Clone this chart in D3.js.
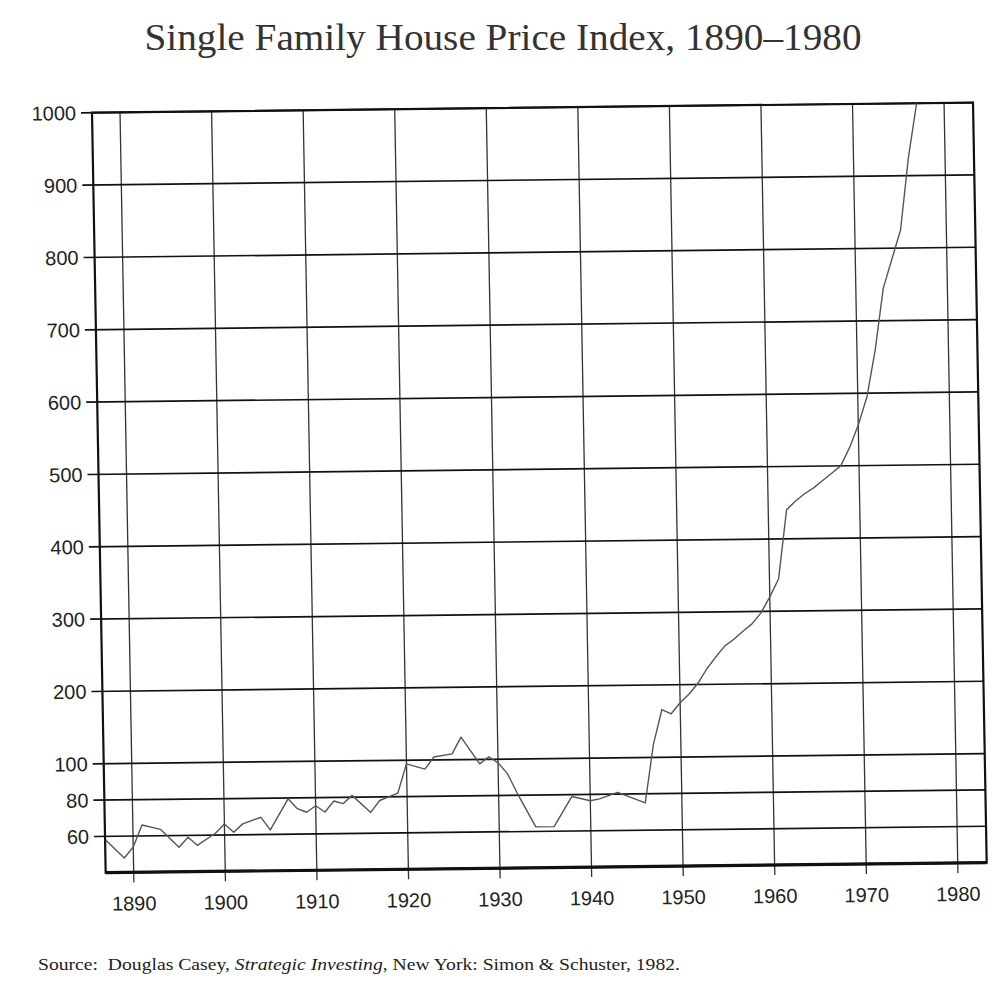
<!DOCTYPE html>
<html>
<head>
<meta charset="utf-8">
<script src="https://cdn.jsdelivr.net/npm/d3@7"></script>
<style>
  body { margin: 0; background: #fff; }
  svg { display: block; }
</style>
</head>
<body>
<div id="chart"></div>
<script>
// Data
const years = [1887, 1889, 1890, 1891, 1893, 1895, 1896, 1897, 1899, 1900,
    1901, 1902, 1904, 1905, 1907, 1908, 1909, 1910, 1911, 1912,
    1913, 1914, 1916, 1917, 1919, 1920, 1922, 1923, 1925, 1926,
    1928, 1929, 1930, 1931, 1932, 1934, 1936, 1938, 1940, 1941,
    1943, 1946, 1947, 1948, 1949, 1950, 1951, 1952, 1953, 1954,
    1955, 1956, 1957, 1958, 1959, 1960, 1961, 1962, 1963, 1964,
    1965, 1966, 1967, 1968, 1969, 1970, 1971, 1972, 1973, 1974,
    1975, 1976, 1977];
const values = [58, 48, 54, 66, 63.5, 53.5, 59, 54.5, 61, 66,
    61.5, 66, 69.5, 62.5, 79.5, 74, 72, 75.5, 72, 78,
    76.5, 81, 71.5, 78, 82, 98, 95, 104, 108, 131,
    97.5, 103.5, 98, 92, 81.5, 62.5, 62.5, 79, 76.5, 77.5,
    81, 75, 118, 166, 160, 175, 187, 202, 222, 238,
    253, 262, 273, 283, 298, 320, 345, 440, 452, 462,
    470, 480, 490, 500, 525, 556, 595, 660, 745, 785,
    825, 925, 1000];

const xTicks = [1890, 1900, 1910, 1920, 1930, 1940, 1950, 1960, 1970, 1980];
const yTicks = [60, 80, 100, 200, 300, 400, 500, 600, 700, 800, 900, 1000];

const title = 'Single Family House Price Index, 1890\u20131980';

// Dimensions
let dimensions = {
    width: 1005,
    height: 998,
    ctrWidth: 881,
    ctrHeight: 760
};

// Scales
const xScale = d3.scaleLinear()
    .domain([1886.94, 1983.16])
    .range([0, dimensions.ctrWidth]);

// printed scale is stretched below 100
const yScale = d3.scaleLinear()
    .domain([40, 100, 1000])
    .range([dimensions.ctrHeight, 651, 0]);

// Draw Image
const svg = d3.select('#chart')
    .append('svg')
    .attr('width', dimensions.width)
    .attr('height', dimensions.height);

svg.append('text')
    .attr('x', 503)
    .attr('y', 50)
    .attr('text-anchor', 'middle')
    .attr('font-family', 'Liberation Serif, serif')
    .attr('font-size', 38)
    .attr('fill', '#333')
    .attr('textLength', 717)
    .attr('lengthAdjust', 'spacingAndGlyphs')
    .text(title);

// the scan is slightly skewed, so the plot is too
const ctr = svg.append('g')
    .attr('transform', 'matrix(1,-0.0115,0.018,1,92,112.7)');

ctr.append('clipPath')
    .attr('id', 'plot-clip')
    .append('rect')
    .attr('width', dimensions.ctrWidth)
    .attr('height', dimensions.ctrHeight);

// Grid
ctr.append('g')
    .selectAll('line')
    .data(xTicks)
    .join('line')
    .attr('x1', d => xScale(d))
    .attr('x2', d => xScale(d))
    .attr('y1', 0)
    .attr('y2', dimensions.ctrHeight + 10)
    .attr('stroke', '#333')
    .attr('stroke-width', 1.3);

ctr.append('g')
    .selectAll('line')
    .data(yTicks)
    .join('line')
    .attr('x1', -11)
    .attr('x2', dimensions.ctrWidth)
    .attr('y1', d => yScale(d))
    .attr('y2', d => yScale(d))
    .attr('stroke', '#111')
    .attr('stroke-width', 1.7);

// Frame
ctr.append('rect')
    .attr('width', dimensions.ctrWidth)
    .attr('height', dimensions.ctrHeight)
    .attr('fill', 'none')
    .attr('stroke', '#111')
    .attr('stroke-width', 2.2);

ctr.append('line')
    .attr('x1', 0)
    .attr('x2', dimensions.ctrWidth)
    .attr('y1', dimensions.ctrHeight)
    .attr('y2', dimensions.ctrHeight)
    .attr('stroke', '#111')
    .attr('stroke-width', 3.2);

// Tick labels
ctr.append('g')
    .selectAll('text')
    .data(yTicks)
    .join('text')
    .attr('x', -16)
    .attr('y', d => yScale(d))
    .attr('dy', '0.36em')
    .attr('text-anchor', 'end')
    .attr('font-family', 'Liberation Sans, sans-serif')
    .attr('font-size', 20)
    .attr('fill', '#222')
    .text(d => d);

ctr.append('g')
    .selectAll('text')
    .data(xTicks)
    .join('text')
    .attr('x', d => xScale(d))
    .attr('y', dimensions.ctrHeight + 38)
    .attr('text-anchor', 'middle')
    .attr('font-family', 'Liberation Sans, sans-serif')
    .attr('font-size', 20)
    .attr('fill', '#222')
    .text(d => d);

// Line
const line = d3.line()
    .x((d, i) => xScale(years[i]))
    .y(d => yScale(d));

ctr.append('path')
    .datum(values)
    .attr('clip-path', 'url(#plot-clip)')
    .attr('fill', 'none')
    .attr('stroke', '#555')
    .attr('stroke-width', 1.4)
    .attr('stroke-linejoin', 'round')
    .attr('d', line);

// Source
const source = svg.append('text')
    .attr('x', 38)
    .attr('y', 970)
    .attr('font-family', 'Liberation Serif, serif')
    .attr('font-size', 17)
    .attr('fill', '#222')
    .attr('textLength', 642)
    .attr('lengthAdjust', 'spacingAndGlyphs');

source.append('tspan').text('Source:\u00a0 Douglas Casey, ');
source.append('tspan').attr('font-style', 'italic').text('Strategic Investing');
source.append('tspan').text(', New York: Simon & Schuster, 1982.');
</script>
</body>
</html>
